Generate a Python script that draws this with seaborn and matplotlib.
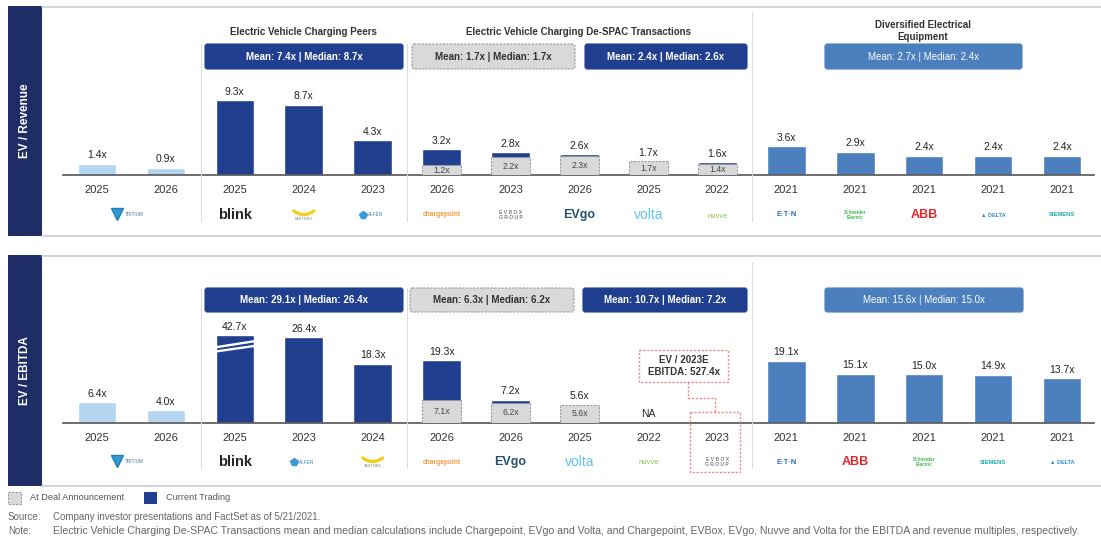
import numpy as np
import pandas as pd
import matplotlib
matplotlib.use("Agg")
import matplotlib.pyplot as plt
import seaborn as sns
from matplotlib.patches import FancyBboxPatch, Rectangle

sns.set_theme(style="white")
plt.rcParams["font.family"] = ["Liberation Sans", "DejaVu Sans"]

nan = np.nan

# ---------------- data ----------------
groups = ["Tritium"] * 2 + ["Peers"] * 3 + ["DeSPAC"] * 5 + ["Diversified"] * 5

rev_companies = ["Tritium", "Tritium", "Blink", "Fastned", "Alfen",
                 "ChargePoint", "EVBox", "EVgo", "Volta", "Nuvve",
                 "Eaton", "Schneider", "ABB", "Delta", "Siemens"]
rev_years = ["2025", "2026", "2025", "2024", "2023",
             "2026", "2023", "2026", "2025", "2022",
             "2021", "2021", "2021", "2021", "2021"]
rev_current = [1.4, 0.9, 9.3, 8.7, 4.3,
               3.2, 2.8, 2.6, 1.7, 1.6,
               3.6, 2.9, 2.4, 2.4, 2.4]
rev_announce = [nan, nan, nan, nan, nan,
                1.2, 2.2, 2.3, 1.7, 1.4,
                nan, nan, nan, nan, nan]

ebitda_companies = ["Tritium", "Tritium", "Blink", "Alfen", "Fastned",
                    "ChargePoint", "EVgo", "Volta", "Nuvve", "EVBox",
                    "Eaton", "ABB", "Schneider", "Siemens", "Delta"]
ebitda_years = ["2025", "2026", "2025", "2023", "2024",
                "2026", "2026", "2025", "2022", "2023",
                "2021", "2021", "2021", "2021", "2021"]
ebitda_current = [6.4, 4.0, 42.7, 26.4, 18.3,
                  19.3, 7.2, 5.6, nan, nan,
                  19.1, 15.1, 15.0, 14.9, 13.7]
ebitda_announce = [nan, nan, nan, nan, nan,
                   7.1, 6.2, 5.6, nan, nan,
                   nan, nan, nan, nan, nan]
ebitda_na = ["Nuvve"]

group_titles = ["Electric Vehicle Charging Peers",
                "Electric Vehicle Charging De-SPAC Transactions",
                "Diversified Electrical\nEquipment"]
rev_stats = ["Mean: 7.4x | Median: 8.7x", "Mean: 1.7x | Median: 1.7x",
             "Mean: 2.4x | Median: 2.6x", "Mean: 2.7x | Median: 2.4x"]
ebitda_stats = ["Mean: 29.1x | Median: 26.4x", "Mean: 6.3x | Median: 6.2x",
                "Mean: 10.7x | Median: 7.2x", "Mean: 15.6x | Median: 15.0x"]
evbox_note = "EV / 2023E\nEBITDA: 527.4x"
legend_labels = ["At Deal Announcement", "Current Trading"]
source_text = "Company investor presentations and FactSet as of 5/21/2021."
note_text = ("Electric Vehicle Charging De-SPAC Transactions mean and median calculations include "
             "Chargepoint, EVgo and Volta, and Chargepoint, EVBox, EVgo, Nuvve and Volta for the "
             "EBITDA and revenue multiples, respectively.")

# ---------------- style ----------------
NAVY = "#213f8f"
STRIP = "#1f2d66"
LIGHT = "#b3d5ef"
DIV = "#4b7fbe"
GRAY = "#d9d9d9"
GRAYEDGE = "#9a9a9a"
group_colors = {"Tritium": LIGHT, "Peers": NAVY, "DeSPAC": NAVY, "Diversified": DIV}

W, H = 1101, 537
fig = plt.figure(figsize=(W / 100, H / 100), dpi=100)
fig.patch.set_facecolor("white")

X0, DX = 97.0, 68.93      # pixel x of first column, column spacing
AX_L, AX_R = 63, 1094


def px_axes(left, right, top, bottom):
    return fig.add_axes([left / W, (H - bottom) / H, (right - left) / W, (bottom - top) / H])


cats = [f"c{i}" for i in range(15)]
palette = {c: group_colors[g] for c, g in zip(cats, groups)}


def draw_panel(ax, current, announce, years, ytop, cap=None, na_companies=(), companies=()):
    df = pd.DataFrame({"cat": cats, "val": current, "ann": announce})
    df["disp"] = df["val"].clip(upper=cap) if cap is not None else df["val"]
    dfc = df.dropna(subset=["val"])
    sns.barplot(data=dfc, x="cat", y="disp", hue="cat", palette=palette, order=cats,
                hue_order=cats, dodge=False, legend=False, width=0.56, saturation=1,
                ax=ax, zorder=2)
    dfa = df.dropna(subset=["ann"])
    n0 = len(ax.patches)
    sns.barplot(data=dfa, x="cat", y="ann", order=cats, color=GRAY, width=0.56,
                saturation=1, ax=ax, zorder=3)
    for p in ax.patches[n0:]:
        p.set_edgecolor(GRAYEDGE)
        p.set_linewidth(0.8)
        p.set_linestyle((0, (2, 1.2)))
    for i, row in df.iterrows():
        if not np.isnan(row["val"]):
            ax.annotate(f"{row['val']:.1f}x", (i, row["disp"]), xytext=(0, 2.5),
                        textcoords="offset points", ha="center", va="bottom",
                        fontsize=7.5, color="#222222", zorder=5)
        if not np.isnan(row["ann"]):
            ax.text(i, row["ann"] / 2, f"{row['ann']:.1f}x", ha="center", va="center",
                    fontsize=6.3, color="#444444", zorder=5)
        if companies and companies[i] in na_companies:
            ax.annotate("NA", (i, 0), xytext=(0, 3), textcoords="offset points",
                        ha="center", va="bottom", fontsize=7.5, color="#222222")
    ax.set_xlim((AX_L - X0) / DX, (AX_R - X0) / DX)
    ax.set_ylim(0, ytop)
    ax.set_xticks(range(15))
    ax.set_xticklabels(years, fontsize=8, color="#333333")
    ax.tick_params(axis="x", length=0, pad=7)
    ax.set_yticks([])
    ax.set_xlabel("")
    ax.set_ylabel("")
    for s in ["top", "left", "right"]:
        ax.spines[s].set_visible(False)
    ax.spines["bottom"].set_color("#555555")
    ax.spines["bottom"].set_linewidth(1.2)
    ax.patch.set_alpha(0)
    return df


# top panel: baseline y=175, 8.05 px per unit
ax1 = px_axes(AX_L, AX_R, 40, 175)
draw_panel(ax1, rev_current, rev_announce, rev_years, 135 / 8.05)

# bottom panel: baseline y=423, 3.25 px per unit, broken bar cap
BREAK_CAP = 27.0
ax2 = px_axes(AX_L, AX_R, 288, 423)
draw_panel(ax2, ebitda_current, ebitda_announce, ebitda_years, 135 / 3.25, cap=BREAK_CAP,
           na_companies=ebitda_na, companies=ebitda_companies)

# break marks on the capped bar
for i, v in enumerate(ebitda_current):
    if not np.isnan(v) and v > BREAK_CAP:
        for p in ax2.patches:
            if abs(p.get_x() + p.get_width() / 2 - i) < 0.1 and p.get_height() > 0:
                xl, xr = p.get_x(), p.get_x() + p.get_width()
                for d0, d1 in [(3.7, 1.85), (5.0, 3.3)]:
                    ax2.plot([xl, xr], [BREAK_CAP - d0, BREAK_CAP - d1], color="white",
                             lw=1.7, zorder=4, solid_capstyle="butt")

# ---------------- overlay (decorations) ----------------
ov = fig.add_axes([0, 0, 1, 1], zorder=10)
ov.set_xlim(0, W)
ov.set_ylim(H, 0)
ov.axis("off")

# side strips and panel borders
for (t, b, lab) in [(6, 236, "EV / Revenue"), (255, 486, "EV / EBITDA")]:
    ov.add_patch(Rectangle((8, t), 34, b - t, facecolor=STRIP, edgecolor="none"))
    ov.text(25, (t + b) / 2, lab, rotation=90, ha="center", va="center", color="white",
            fontsize=8.5, fontweight="bold")
    ov.plot([42, W], [t + 0.5, t + 0.5], color="#c3cbe0", lw=1.2)
    ov.plot([42, W], [b - 0.5, b - 0.5], color="#c3cbe0", lw=1.2)

# dividers
for x, (t1, b1), (t2, b2) in [(201, (44, 221), (288, 468)),
                              (407, (44, 221), (288, 468)),
                              (752, (12, 221), (262, 468))]:
    ov.plot([x, x], [t1, b1], color="#dcdcdc", lw=0.8)
    ov.plot([x, x], [t2, b2], color="#dcdcdc", lw=0.8)

# group titles
ov.text(303, 32, group_titles[0], ha="center", va="center", fontsize=7, fontweight="bold", color="#333333")
ov.text(578, 32, group_titles[1], ha="center", va="center", fontsize=7, fontweight="bold", color="#333333")
ov.text(923, 30.5, group_titles[2], ha="center", va="center", fontsize=7, fontweight="bold",
        color="#333333", linespacing=1.25)


def stat_box(x0, x1, y0, y1, text, kind):
    if kind == "gray":
        fc, ec, ls, tc, fw = GRAY, GRAYEDGE, (0, (2, 1.2)), "#333333", "bold"
    elif kind == "navy":
        fc, ec, ls, tc, fw = NAVY, NAVY, "-", "white", "bold"
    else:
        fc, ec, ls, tc, fw = DIV, DIV, "-", "white", "normal"
    ov.add_patch(FancyBboxPatch((x0, y0), x1 - x0, y1 - y0,
                                boxstyle="round,pad=0,rounding_size=2.5",
                                facecolor=fc, edgecolor=ec, linestyle=ls, lw=0.8))
    ov.text((x0 + x1) / 2, (y0 + y1) / 2, text, ha="center", va="center", fontsize=7,
            fontweight=fw, color=tc)


kinds = ["navy", "gray", "navy", "div"]
top_boxes = [(205, 403), (412, 575), (585, 747), (825, 1022)]
bot_boxes = [(205, 403), (410, 574), (583, 747), (825, 1023)]
for (x0, x1), txt, k in zip(top_boxes, rev_stats, kinds):
    stat_box(x0, x1, 44, 69, txt, k)
for (x0, x1), txt, k in zip(bot_boxes, ebitda_stats, kinds):
    stat_box(x0, x1, 288, 312, txt, k)

# EVBox callout
dash = (0, (1.6, 1.2))
red = "#f08a8a"
ov.add_patch(Rectangle((639, 350), 89, 32, facecolor="white", edgecolor=red, lw=1, linestyle=dash))
ov.plot([688, 688, 715, 715], [382, 398, 398, 412], color=red, lw=1, linestyle=dash)
ov.add_patch(Rectangle((690, 412), 50, 60, facecolor="none", edgecolor=red, lw=1, linestyle=dash))
ov.text(683.5, 366, evbox_note, ha="center", va="center", fontsize=7, fontweight="bold",
        color="#333333", linespacing=1.3)


# logos (as styled text)
def logo(name, x, y):
    if name == "Tritium":
        ov.plot([x - 14], [y - 1], marker="v", ms=8, color="#2e9bd3", mec="#1d7fb5")
        ov.text(x - 7, y - 0.5, "TRITIUM", ha="left", va="center", fontsize=3.4, color="#4a7d9c")
    elif name == "Blink":
        ov.text(x, y, "blink", ha="center", va="center", fontsize=10.5, fontweight="bold", color="#262626")
    elif name == "Fastned":
        xs = np.linspace(x - 10, x + 10, 30)
        ov.plot(xs, y - 4 + 3.5 * (1 - ((xs - x) / 10) ** 2), color="#f2cf1d", lw=2.4,
                solid_capstyle="round")
        ov.text(x, y + 4, "FASTNED", ha="center", va="center", fontsize=2.8, color="#888888")
    elif name == "Alfen":
        ov.plot([x - 10], [y], marker="p", ms=5.5, color="#3a9ad8")
        ov.text(x - 5, y, "ALFEN", ha="left", va="center", fontsize=3.4, color="#3a8ac8")
    elif name == "ChargePoint":
        ov.text(x, y, "chargepoint", ha="center", va="center", fontsize=4.8, fontweight="bold",
                color="#f39a3c")
    elif name == "EVBox":
        ov.text(x, y, "E V B O X\nG R O U P", ha="center", va="center", fontsize=3.6,
                fontweight="bold", color="#7a7a7a", linespacing=1.2)
    elif name == "EVgo":
        ov.text(x, y, "EVgo", ha="center", va="center", fontsize=9, fontweight="bold", color="#23506e")
    elif name == "Volta":
        ov.text(x, y, "volta", ha="center", va="center", fontsize=10, color="#63c3ec")
    elif name == "Nuvve":
        ov.text(x, y + 1, "nuvve", ha="center", va="center", fontsize=5.5, color="#8cc152")
    elif name == "Eaton":
        ov.text(x, y, "E·T·N", ha="center", va="center", fontsize=5.5, fontweight="bold",
                color="#2f6fc0")
    elif name == "Schneider":
        ov.text(x, y, "Schneider\nElectric", ha="center", va="center", fontsize=3.3,
                fontweight="bold", color="#3dbb4d", linespacing=1.0)
    elif name == "ABB":
        ov.text(x, y, "ABB", ha="center", va="center", fontsize=9, fontweight="bold", color="#e8262a")
    elif name == "Delta":
        ov.text(x, y + 0.5, "▲ DELTA", ha="center", va="center", fontsize=4, fontweight="bold",
                color="#2a8fd6")
    elif name == "Siemens":
        ov.text(x, y, "SIEMENS", ha="center", va="center", fontsize=4.2, fontweight="bold",
                color="#1aa8a8")


for comps, ly in [(rev_companies, 215), (ebitda_companies, 462)]:
    done_tritium = False
    for i, c in enumerate(comps):
        x = X0 + i * DX
        if c == "Tritium":
            if not done_tritium:
                logo(c, X0 + 0.5 * DX, ly)
                done_tritium = True
            continue
        logo(c, x, ly)

# legend and footnotes
ov.add_patch(Rectangle((8, 492), 13, 12, facecolor=GRAY, edgecolor=GRAYEDGE, lw=0.8,
                       linestyle=(0, (2, 1.2))))
ov.text(30, 498, legend_labels[0], ha="left", va="center", fontsize=6.6, color="#555555")
ov.add_patch(Rectangle((144, 492), 13, 12, facecolor=NAVY, edgecolor="none"))
ov.text(166, 498, legend_labels[1], ha="left", va="center", fontsize=6.6, color="#555555")
ov.text(8, 517, "Source:", ha="left", va="center", fontsize=7, color="#666666")
ov.text(53, 517, source_text, ha="left", va="center", fontsize=7, color="#666666")
ov.text(8, 531, "Note:", ha="left", va="center", fontsize=7, color="#666666")
ov.text(53, 531, note_text, ha="left", va="center", fontsize=7.55, color="#666666")

fig.savefig("out.png", dpi=100, facecolor="white")
